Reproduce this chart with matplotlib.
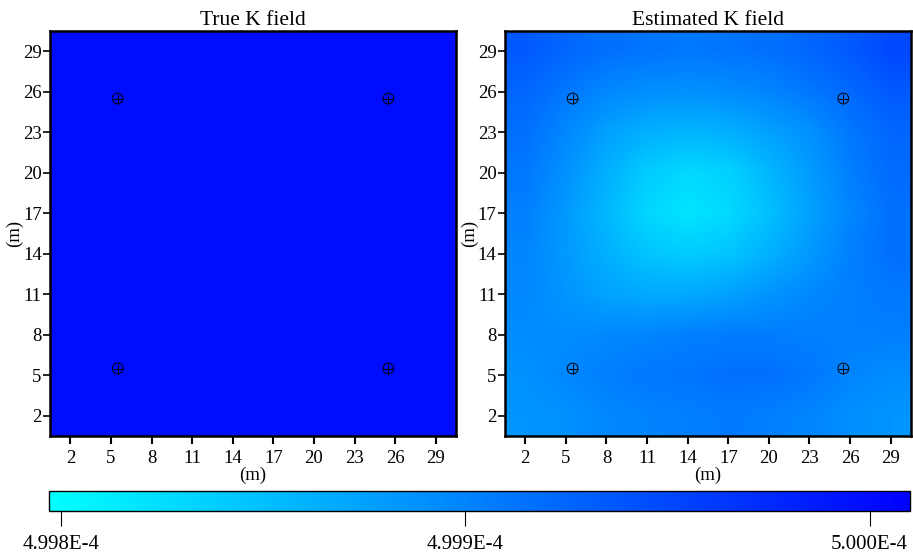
import numpy as np
import matplotlib
matplotlib.use("Agg")
import matplotlib.pyplot as plt
from matplotlib.colors import LinearSegmentedColormap, Normalize
from matplotlib.ticker import FuncFormatter

plt.rcParams["font.family"] = ["Liberation Serif", "DejaVu Serif"]

# grid ticks (cell centres 1..30)
ticks = [2, 5, 8, 11, 14, 17, 20, 23, 26, 29]

# observation wells
well_x = [5.5, 25.5, 5.5, 25.5]
well_y = [5.5, 5.5, 25.5, 25.5]

# true field: uniform K
k_true = 5.000e-4

# estimated field, sampled at x = 2,5,...,29 (columns), y = 29,26,...,2 (rows), units 1e-4
k_est_rows = [
    [4.99935, 4.99925, 4.99916, 4.99912, 4.99910, 4.99912, 4.99916, 4.99925, 4.99935, 4.99950],
    [4.99925, 4.99910, 4.99897, 4.99891, 4.99889, 4.99893, 4.99899, 4.99910, 4.99923, 4.99935],
    [4.99916, 4.99897, 4.99876, 4.99863, 4.99859, 4.99863, 4.99876, 4.99889, 4.99910, 4.99925],
    [4.99910, 4.99889, 4.99863, 4.99840, 4.99829, 4.99835, 4.99857, 4.99880, 4.99904, 4.99921],
    [4.99904, 4.99882, 4.99857, 4.99831, 4.99820, 4.99829, 4.99850, 4.99876, 4.99899, 4.99916],
    [4.99899, 4.99882, 4.99863, 4.99846, 4.99840, 4.99846, 4.99863, 4.99882, 4.99904, 4.99916],
    [4.99897, 4.99886, 4.99874, 4.99869, 4.99869, 4.99876, 4.99886, 4.99897, 4.99904, 4.99910],
    [4.99893, 4.99893, 4.99897, 4.99899, 4.99904, 4.99906, 4.99906, 4.99904, 4.99904, 4.99904],
    [4.99889, 4.99897, 4.99904, 4.99910, 4.99912, 4.99916, 4.99916, 4.99910, 4.99899, 4.99893],
    [4.99886, 4.99889, 4.99897, 4.99901, 4.99904, 4.99908, 4.99904, 4.99899, 4.99891, 4.99886],
]

# colour scale limits
k_min = 4.99797e-4
k_max = 5.00010e-4
cbar_ticks = [4.998e-4, 4.999e-4, 5.000e-4]

k_est = np.array(k_est_rows) * 1e-4
k_true_field = np.full((30, 30), k_true)

cmap = LinearSegmentedColormap.from_list("cyan_blue", ["#00ffff", "#0000ff"])
norm = Normalize(vmin=k_min, vmax=k_max)

fig = plt.figure(figsize=(9.13, 5.55), dpi=100)
ax1 = fig.add_axes([0.0548, 0.2144, 0.4447, 0.7297])
ax2 = fig.add_axes([0.5531, 0.2144, 0.4447, 0.7297])
cax = fig.add_axes([0.0537, 0.0793, 0.943, 0.036])

ext = (0.5, 30.5, 0.5, 30.5)
ax1.imshow(k_true_field, cmap=cmap, norm=norm, extent=ext, origin="lower",
           interpolation="nearest", aspect="auto")
im = ax2.imshow(k_est, cmap=cmap, norm=norm, extent=ext, origin="upper",
                interpolation="bilinear", aspect="auto")

for ax, title in [(ax1, "True K field"), (ax2, "Estimated K field")]:
    ax.scatter(well_x, well_y, s=60, facecolors="none", edgecolors="black", linewidths=0.7)
    ax.scatter(well_x, well_y, s=60, marker="+", color="black", linewidths=0.7)
    ax.set_xlim(0.5, 30.5)
    ax.set_ylim(0.5, 30.5)
    ax.set_xticks(ticks)
    ax.set_yticks(ticks)
    ax.tick_params(axis="x", direction="out", length=6, width=1.5, labelsize=13.5, pad=4)
    ax.tick_params(axis="y", direction="out", length=5, width=1.2, labelsize=13.5, pad=1)
    for sp in ax.spines.values():
        sp.set_linewidth(1.8)
    ax.set_title(title, fontsize=15.5, pad=4)
    ax.set_xlabel("(m)", fontsize=13.5, labelpad=0)
    ax.set_ylabel("(m)", fontsize=13.5, labelpad=0)

cb = fig.colorbar(im, cax=cax, orientation="horizontal", ticks=cbar_ticks)
cb.outline.set_linewidth(1.0)
cb.ax.tick_params(length=11, width=0.8, labelsize=15, pad=6)
cb.ax.xaxis.set_major_formatter(FuncFormatter(lambda v, p: f"{v * 1e4:.3f}E-4"))

fig.savefig("out.png", dpi=100)
